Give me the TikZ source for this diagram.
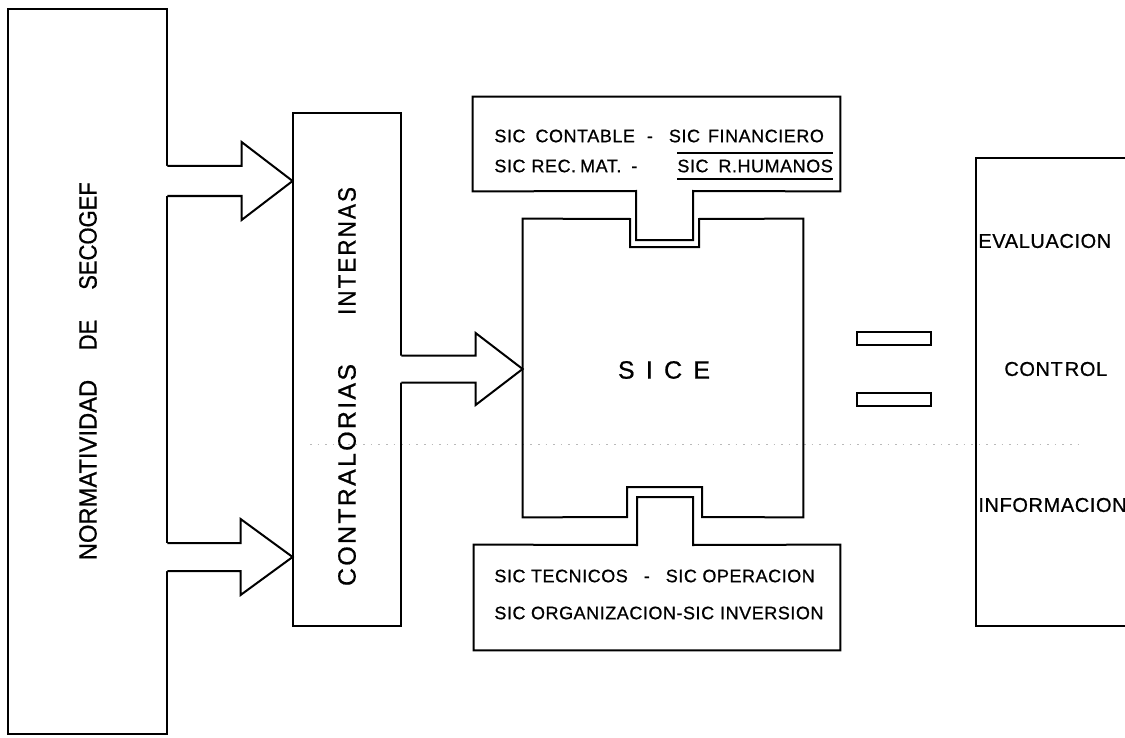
\documentclass[tikz,border=0pt]{standalone}
\usepackage{fontspec}
\setmainfont[FakeBold=0.7]{Liberation Sans}
\newfontfamily\lsw[LetterSpace=3,FakeBold=0.7]{Liberation Sans}
\newfontfamily\lsr[LetterSpace=3,FakeBold=0.7]{Liberation Sans}
\newfontfamily\lsv[LetterSpace=9,FakeBold=0.7]{Liberation Sans}
\newfontfamily\lsx[LetterSpace=45,FakeBold=0.7]{Liberation Sans}
\usetikzlibrary{calc,fit}
\newcommand\blockarr[5]{%
  \fill[white] ($(#1)+(-3,-#3)$) -- ($(#2)+(-#5,-#3)$) -- ($(#2)+(-#5,-#4)$) -- (#2) -- ($(#2)+(-#5,#4)$) -- ($(#2)+(-#5,#3)$) -- ($(#1)+(-3,#3)$) -- cycle;
  \draw[ln] ($(#1)+(0,-#3)$) -- ($(#2)+(-#5,-#3)$) -- ($(#2)+(-#5,-#4)$) -- (#2) -- ($(#2)+(-#5,#4)$) -- ($(#2)+(-#5,#3)$) -- ($(#1)+(0,#3)$);
}
\begin{document}
\begin{tikzpicture}[x=0.5pt,y=-0.5pt,
  ln/.style={line width=1pt, line join=miter},
  area/.style={inner sep=0pt, draw=none},
  tx/.style={inner sep=0pt, anchor=west},
  boxfont/.style={font=\lsw\fontsize{9}{11}\selectfont},
  vfont/.style={font=\fontsize{12.5}{14}\selectfont, rotate=90, inner sep=0pt},
  cfont/.style={font=\lsv\fontsize{12.5}{14}\selectfont, rotate=90, inner sep=0pt},
  rightfont/.style={font=\lsr\fontsize{10}{12}\selectfont},
]
\useasboundingbox (0,0) rectangle (1125,738);
\fill[white] (0,0) rectangle (1125,738);

% named areas
\node[area, fit={(8,9)(167,734)}] (norm) {};
\node[area, fit={(293,113)(401,626)}] (contr) {};
\node[area, fit={(523,219)(803,517)}] (sice) {};
\node[area, fit={(473,97)(840,191)}] (topb) {};
\node[area, fit={(474,545)(840,650)}] (botb) {};
\node[area, fit={(976,158)(1140,626)}] (res) {};

% faint scan line
\draw[gray!55, line width=0.5pt, dash pattern=on 0.8pt off 3pt] (310,444) -- (1085,444);

% left box
\draw[ln] (norm.north west) rectangle (norm.south east);
\coordinate (a1t) at (contr.west |- 0,181);
\coordinate (a1s) at (norm.east |- a1t);
\coordinate (a2t) at (contr.west |- 0,557);
\coordinate (a2s) at (norm.east |- a2t);
\blockarr{a1s}{a1t}{15}{39}{51}
\blockarr{a2s}{a2t}{14}{38}{52}

% contralorias
\draw[ln] (contr.north west) rectangle (contr.south east);
\coordinate (a3t) at (sice.west |- 0,369);
\coordinate (a3s) at (contr.east |- a3t);
\blockarr{a3s}{a3t}{13.5}{36}{47}

% SICE with notches
\draw[ln] (sice.north west) -- (630,219) -- (630,247) -- (699,247) -- (699,219) -- (sice.north east)
  -- (sice.south east) -- (702,517) -- (702,487) -- (627,487) -- (627,517) -- (sice.south west) -- cycle;

% top box with tab
\draw[ln] (topb.north west) -- (topb.north east) -- (topb.south east) -- (693,191) -- (693,240) -- (636,240) -- (636,191) -- (topb.south west) -- cycle;

% bottom box with tab
\draw[ln] (botb.north west) -- (637,545) -- (637,497) -- (693,497) -- (693,545) -- (botb.north east) -- (botb.south east) -- (botb.south west) -- cycle;

% result box (open on the right, cut by the page)
\draw[ln] (res.north east) -- (res.north west) -- (res.south west) -- (res.south east);

% equals bars
\node[draw, line width=1pt, inner sep=0pt, fit={(857,332)(931,345)}] (eq1) {};
\node[draw, line width=1pt, inner sep=0pt, fit={(857,393)(931,406)}] (eq2) {};

% texts
\node[vfont] (n1) at (88,470) {\scalebox{0.95}[1]{NORMATIVIDAD}};
\node[vfont] (n2) at (88,335) {\scalebox{0.88}[1]{DE}};
\node[vfont] (n3) at (88,236) {\scalebox{0.88}[1]{SECOGEF}};
\node[cfont] (c1) at (347,475) {CONTRALORIAS};
\node[cfont] (c2) at (347,251) {\scalebox{0.9}[1]{INTERNAS}};
\node[font=\lsx\fontsize{12.5}{14}\selectfont, inner sep=0pt] (sicetxt) at (664,370) {SICE};

\node[tx, boxfont] (t1) at (494,136) {SIC\hspace{5pt}CONTABLE\hspace{6pt}-\hspace{8pt}SIC\hspace{4pt}FINANCIERO};
\node[tx, boxfont] (t2) at (494,166) {SIC\hspace{3pt}REC.\hspace{2pt}MAT.\hspace{5pt}-};
\node[tx, boxfont, inner ysep=3pt] (t3) at (677,166) {SIC\hspace{5pt}R.HUMANOS};
\draw[line width=0.8pt] (t3.north west) -- (t3.north east);
\draw[line width=0.8pt] (t3.south west) -- (t3.south east);

\node[tx, boxfont] (b1) at (494,576) {SIC TECNICOS\hspace{8pt}-\hspace{8pt}SIC OPERACION};
\node[tx, boxfont] (b2) at (494,613) {SIC ORGANIZACION-SIC\hspace{3pt}INVERSION};

\node[tx, rightfont] (r1) at (978,241) {EVALUACION};
\node[tx, rightfont] (r2) at (1004,369) {CONT\hspace{1pt}ROL};
\node[tx, rightfont] (r3) at (978,505) {INFORMACION};
\end{tikzpicture}
\end{document}
